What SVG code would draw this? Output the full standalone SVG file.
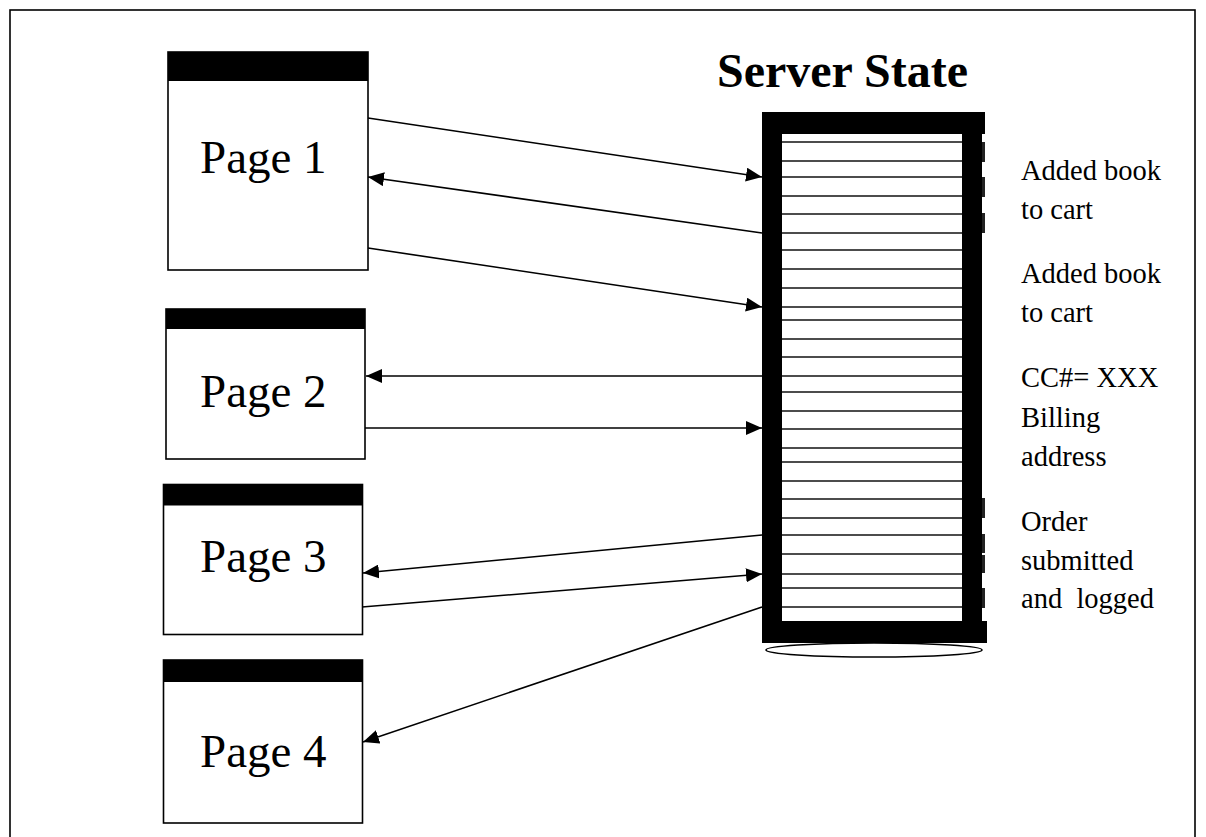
<svg xmlns="http://www.w3.org/2000/svg" width="1206" height="837" viewBox="0 0 1206 837">
<defs>
<style>
.frame{fill:none;stroke:#000;stroke-width:1.6}
.page{fill:#fff;stroke:#000;stroke-width:1.6}
.bar{fill:#000}
.pt{font-family:"Liberation Serif","Times New Roman",serif;font-size:47px;fill:#000}
.lbl{font-family:"Liberation Serif","Times New Roman",serif;font-size:28.5px;fill:#000}
.title{font-family:"Liberation Serif","Times New Roman",serif;font-size:48px;font-weight:bold;fill:#000}
.row{stroke:#111;stroke-width:1.6}
.conn{stroke:#000;stroke-width:1.6;fill:none}
.tick{fill:#222}
</style>
<marker id="ah" viewBox="0 0 16 14" refX="16" refY="7" markerWidth="16" markerHeight="14" markerUnits="userSpaceOnUse" orient="auto">
<path d="M0,0 L16,7 L0,14 Z" fill="#000"/>
</marker>
</defs>
<rect x="0" y="0" width="1206" height="837" fill="#fff"/>
<rect class="frame" x="10" y="10" width="1185" height="850"/>

<g id="page1">
<rect class="page" x="168" y="52" width="200" height="218"/>
<rect class="bar" x="168" y="52" width="200" height="29"/>
<text class="pt" x="200" y="173">Page 1</text>
</g>
<g id="page2">
<rect class="page" x="166" y="309" width="199" height="150"/>
<rect class="bar" x="166" y="309" width="199" height="20"/>
<text class="pt" x="200" y="407">Page 2</text>
</g>
<g id="page3">
<rect class="page" x="163.5" y="484.5" width="199" height="150"/>
<rect class="bar" x="163.5" y="484.5" width="199" height="21"/>
<text class="pt" x="200" y="572">Page 3</text>
</g>
<g id="page4">
<rect class="page" x="163.5" y="660" width="199" height="163"/>
<rect class="bar" x="163.5" y="660" width="199" height="22"/>
<text class="pt" x="200" y="767">Page 4</text>
</g>

<g id="server">
<text class="title" x="717" y="87">Server State</text>
<g id="rows">
<line class="row" x1="782" x2="962" y1="142" y2="142"/>
<line class="row" x1="782" x2="962" y1="161" y2="161"/>
<line class="row" x1="782" x2="962" y1="177" y2="177"/>
<line class="row" x1="782" x2="962" y1="196" y2="196"/>
<line class="row" x1="782" x2="962" y1="214" y2="214"/>
<line class="row" x1="782" x2="962" y1="233" y2="233"/>
<line class="row" x1="782" x2="962" y1="250" y2="250"/>
<line class="row" x1="782" x2="962" y1="269" y2="269"/>
<line class="row" x1="782" x2="962" y1="288" y2="288"/>
<line class="row" x1="782" x2="962" y1="307" y2="307"/>
<line class="row" x1="782" x2="962" y1="320" y2="320"/>
<line class="row" x1="782" x2="962" y1="339" y2="339"/>
<line class="row" x1="782" x2="962" y1="357" y2="357"/>
<line class="row" x1="782" x2="962" y1="376" y2="376"/>
<line class="row" x1="782" x2="962" y1="392" y2="392"/>
<line class="row" x1="782" x2="962" y1="411" y2="411"/>
<line class="row" x1="782" x2="962" y1="429" y2="429"/>
<line class="row" x1="782" x2="962" y1="448" y2="448"/>
<line class="row" x1="782" x2="962" y1="462" y2="462"/>
<line class="row" x1="782" x2="962" y1="481" y2="481"/>
<line class="row" x1="782" x2="962" y1="499" y2="499"/>
<line class="row" x1="782" x2="962" y1="518" y2="518"/>
<line class="row" x1="782" x2="962" y1="535" y2="535"/>
<line class="row" x1="782" x2="962" y1="554" y2="554"/>
<line class="row" x1="782" x2="962" y1="574" y2="574"/>
<line class="row" x1="782" x2="962" y1="588" y2="588"/>
<line class="row" x1="782" x2="962" y1="607" y2="607"/>
</g>
<rect class="bar" x="762" y="112" width="223" height="22"/>
<rect class="bar" x="762" y="112" width="20" height="531"/>
<rect class="bar" x="962" y="112" width="20" height="531"/>
<rect class="bar" x="762" y="621" width="225" height="22"/>
<rect class="tick" x="982" y="142" width="3" height="20"/>
<rect class="tick" x="982" y="177" width="3" height="20"/>
<rect class="tick" x="982" y="213" width="3" height="20"/>
<rect class="tick" x="982" y="498" width="3" height="20"/>
<rect class="tick" x="982" y="534" width="3" height="19"/>
<rect class="tick" x="982" y="555" width="3" height="18"/>
<rect class="tick" x="982" y="588" width="3" height="20"/>
<ellipse cx="874" cy="650" rx="108" ry="7" fill="#fff" stroke="#000" stroke-width="1.6"/>
</g>

<g id="labels">
<text class="lbl" x="1021" y="180">Added book</text>
<text class="lbl" x="1021" y="219">to cart</text>
<text class="lbl" x="1021" y="283">Added book</text>
<text class="lbl" x="1021" y="322">to cart</text>
<text class="lbl" x="1021" y="387">CC#= XXX</text>
<text class="lbl" x="1021" y="427">Billing</text>
<text class="lbl" x="1021" y="466">address</text>
<text class="lbl" x="1021" y="531">Order</text>
<text class="lbl" x="1021" y="570">submitted</text>
<text class="lbl" x="1021" y="608" xml:space="preserve">and  logged</text>
</g>

<g id="connectors">
<line class="conn" x1="368" y1="118" x2="762" y2="177" marker-end="url(#ah)"/>
<line class="conn" x1="762" y1="233" x2="368" y2="177" marker-end="url(#ah)"/>
<line class="conn" x1="368" y1="248" x2="762" y2="307" marker-end="url(#ah)"/>
<line class="conn" x1="762" y1="376" x2="366" y2="376" marker-end="url(#ah)"/>
<line class="conn" x1="365" y1="428" x2="762" y2="428" marker-end="url(#ah)"/>
<line class="conn" x1="762" y1="535" x2="363" y2="573" marker-end="url(#ah)"/>
<line class="conn" x1="362" y1="607" x2="762" y2="574" marker-end="url(#ah)"/>
<line class="conn" x1="762" y1="607" x2="363" y2="742" marker-end="url(#ah)"/>
</g>
</svg>
